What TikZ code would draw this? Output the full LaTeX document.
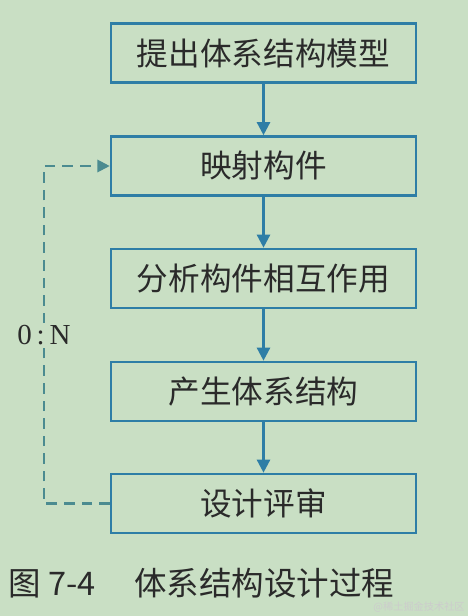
\documentclass[tikz,border=0pt]{standalone}
\usepackage{fontspec}
\setmainfont{Liberation Serif}
\newfontfamily\cjk{Noto Sans CJK SC}
\usetikzlibrary{arrows.meta}
\definecolor{figBg}{HTML}{C9DFC4}
\definecolor{figBlue}{HTML}{2E7EA6}
\definecolor{figDash}{HTML}{4B8B90}
\definecolor{figText}{HTML}{2A2A2A}
\begin{document}
\begin{tikzpicture}[x=0.02cm,y=-0.02cm,
  stage/.style={draw=figBlue,line width=1.5pt,fill=figBg,
                minimum width=6.1cm,minimum height=1.18cm,
                font=\cjk\fontsize{18}{18}\selectfont,text=figText},
  flow/.style={-{Triangle[length=7.5pt,width=7.5pt]},figBlue,line width=1.4pt},
  back/.style={-{Triangle[length=7pt,width=7pt]},figDash,line width=1.2pt,
               dash pattern=on 6pt off 4pt}]
  \fill[figBg] (0,0) rectangle (468,616);
  \useasboundingbox (0,0) rectangle (468,616);
  \node[stage] (model) at (263.5,53)    {提出体系结构模型};
  \node[stage] (map)   at (263.5,166)   {映射构件};
  \node[stage] (inter) at (263.5,278.5) {分析构件相互作用};
  \node[stage] (arch)  at (263.5,391.5) {产生体系结构};
  \node[stage] (rev)   at (263.5,503.5) {设计评审};
  \draw[flow] (model)--(map);
  \draw[flow] (map)--(inter);
  \draw[flow] (inter)--(arch);
  \draw[flow] (arch)--(rev);
  % review loop back to mapping
  \coordinate (lb) at (44,503.5);
  \coordinate (lt) at (44,166);
  \draw[back] (rev.west)--(lb)--(lt)--(map.west);
  \node[fill=figBg,inner sep=1pt,font=\fontsize{16.5}{16.5}\selectfont,text=figText]
    (cnt) at (44,335) {0\,:\,N};
  \node[anchor=west,inner sep=0pt,text=figText,font=\cjk\fontsize{18.5}{19}\selectfont]
    (cap) at (8,583) {图 7-4\hspace{1.2em}体系结构设计过程};
  \node[anchor=east,inner sep=0pt,text=white!60!gray,font=\cjk\fontsize{5.8}{6}\selectfont]
    (wm) at (465,607) {@稀土掘金技术社区};
\end{tikzpicture}
\end{document}
